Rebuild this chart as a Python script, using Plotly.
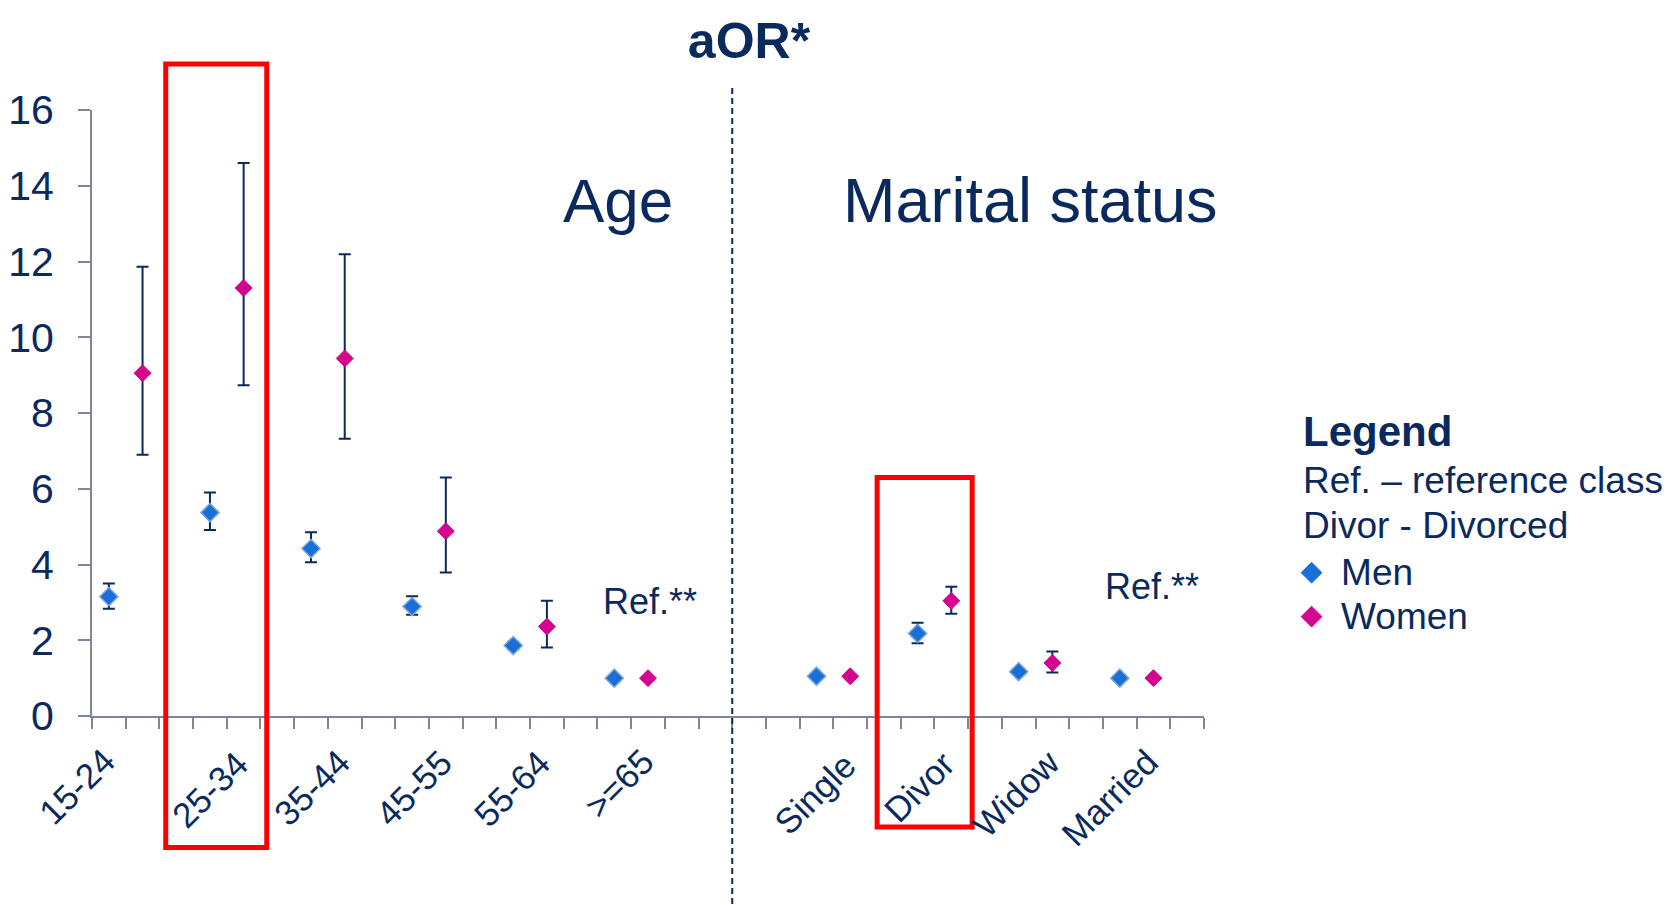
import plotly.graph_objects as go

# Age groups and marital status (each group uses 3 slots: men, women, gap)
age_groups = ['15-24', '25-34', '35-44', '45-55', '55-64', '>=65']
marital_groups = ['Single', 'Divor', 'Widow', 'Married']

# aOR with 95% CI
men_aor_age = [3.15, 5.37, 4.42, 2.89, 1.86, 1.0]
men_lo_age = [2.83, 4.91, 4.06, 2.67, 1.76, 1.0]
men_hi_age = [3.50, 5.90, 4.85, 3.16, 1.96, 1.0]
women_aor_age = [9.05, 11.30, 9.44, 4.88, 2.36, 1.0]
women_lo_age = [6.90, 8.73, 7.32, 3.79, 1.81, 1.0]
women_hi_age = [11.86, 14.60, 12.19, 6.30, 3.04, 1.0]

men_aor_mar = [1.05, 2.18, 1.17, 1.0]
men_lo_mar = [1.02, 1.92, 1.10, 1.0]
men_hi_mar = [1.08, 2.46, 1.25, 1.0]
women_aor_mar = [1.05, 3.04, 1.40, 1.0]
women_lo_mar = [1.02, 2.70, 1.15, 1.0]
women_hi_mar = [1.08, 3.41, 1.70, 1.0]

NAVY = '#0A2A5E'
GREY = '#80869A'
MEN = '#1A6FD6'
MEN_EDGE = '#7BA6E3'
WOMEN = '#D4048F'

N_SLOTS = 33
MARITAL_START = 21
PAGE_OFFSET = 8  # the html body margin pushes the figure 8px right/down


def slot_positions(offset):
    """x position of each point on the numeric slot axis"""
    xs = [3 * i + offset for i in range(len(age_groups))]
    xs += [MARITAL_START + 3 * i + offset for i in range(len(marital_groups))]
    return xs


def make_trace(name, aor, lo, hi, offset, color, size, line_color, line_width):
    return go.Scatter(
        x=slot_positions(offset),
        y=aor,
        mode='markers',
        name=name,
        showlegend=False,
        marker=dict(symbol='diamond', size=size, color=color,
                    line=dict(color=line_color, width=line_width)),
        error_y=dict(
            type='data', symmetric=False,
            array=[h - v for h, v in zip(hi, aor)],
            arrayminus=[v - l for v, l in zip(aor, lo)],
            color=NAVY, thickness=2, width=6
        ),
        hoverinfo='skip'
    )


def legend_entry(name, color, line_color):
    # legend-only entry so the legend diamond can be bigger than the plotted ones
    return go.Scatter(
        x=[None], y=[None], mode='markers',
        name=f'<span style="font-size:37px">{name}</span>',
        marker=dict(symbol='diamond', size=16, color=color,
                    line=dict(color=line_color, width=1)),
        hoverinfo='skip'
    )


fig = go.Figure()
fig.add_trace(make_trace('Men', men_aor_age + men_aor_mar, men_lo_age + men_lo_mar,
                         men_hi_age + men_hi_mar, 0, MEN, 14, MEN_EDGE, 1.5))
fig.add_trace(make_trace('Women', women_aor_age + women_aor_mar, women_lo_age + women_lo_mar,
                         women_hi_age + women_hi_mar, 1, WOMEN, 13, WOMEN, 1))
fig.add_trace(legend_entry('Men', MEN, MEN))
fig.add_trace(legend_entry('Women', WOMEN, WOMEN))

# category labels, rotated like the original axis labels
label_x = [-0.0138, 0.1059, 0.1976, 0.2898, 0.3775, 0.4738, 0.6501, 0.7441, 0.8309, 0.9150]
label_y = [-0.1161, -0.1210, -0.1177, -0.1185, -0.1194, -0.1111, -0.1276, -0.1161, -0.1276, -0.1342]
for text, lx, ly in zip(age_groups + marital_groups, label_x, label_y):
    fig.add_annotation(x=lx, y=ly, xref='paper', yref='paper', text=text, showarrow=False,
                       textangle=-45, xanchor='center', yanchor='middle',
                       font=dict(size=35, color=NAVY))

# section headings
fig.add_annotation(x=15.11, y=13.62, text='Age', showarrow=False,
                   font=dict(size=62, color=NAVY))
fig.add_annotation(x=27.35, y=13.62, text='Marital status', showarrow=False,
                   font=dict(size=63, color=NAVY))
fig.add_annotation(x=16.06, y=3.02, text='Ref.**', showarrow=False,
                   font=dict(size=36, color=NAVY))
fig.add_annotation(x=30.97, y=3.42, text='Ref.**', showarrow=False,
                   font=dict(size=36, color=NAVY))

# legend text block
legend_lines = [('<b>Legend</b>', 42, 0.469), ('Ref. – reference class', 37, 0.388),
                ('Divor - Divorced', 37, 0.314)]
for text, size, ly in legend_lines:
    fig.add_annotation(x=1.0875, y=ly, xref='paper', yref='paper', text=text,
                       showarrow=False, xanchor='left', yanchor='middle',
                       font=dict(size=size, color=NAVY))

# dashed divider between age and marital status
fig.add_shape(type='line', xref='x', yref='paper', x0=18.5, x1=18.5, y0=1.0363, y1=-0.33,
              line=dict(color=NAVY, width=2, dash='6px,4px'))

# red highlight boxes
fig.add_shape(type='rect', xref='x', yref='paper', x0=1.688, x1=4.686, y0=-0.2168, y1=1.076,
              line=dict(color='#FF0000', width=5))
fig.add_shape(type='rect', xref='x', yref='paper', x0=22.80, x1=25.62, y0=-0.1832, y1=0.3936,
              line=dict(color='#FF0000', width=5))

fig.update_xaxes(
    range=[-0.5, N_SLOTS - 0.5],
    tickvals=[i - 0.5 for i in range(N_SLOTS + 1)],
    ticktext=[''] * (N_SLOTS + 1),
    ticks='outside', ticklen=11, tickwidth=2, tickcolor=GREY,
    showline=True, linecolor=GREY, linewidth=2,
    showgrid=False, zeroline=False, automargin=False
)
fig.update_yaxes(
    range=[0, 16], dtick=2,
    ticks='outside', ticklen=12, tickwidth=2, tickcolor=GREY,
    showline=True, linecolor=GREY, linewidth=2,
    showgrid=False, zeroline=False, automargin=False,
    tickfont=dict(size=41, color=NAVY), ticklabelstandoff=16
)

fig.update_layout(
    width=1670, height=905,
    margin=dict(l=92.3 - PAGE_OFFSET, r=474, t=110 - PAGE_OFFSET, b=197.3, autoexpand=False),
    plot_bgcolor='white', paper_bgcolor='white',
    font=dict(family='Liberation Sans, Arial, sans-serif', color=NAVY),
    title=dict(text='<b>aOR*</b>', x=(749 - PAGE_OFFSET) / 1670, xref='container', xanchor='center',
               y=1 - (40 - PAGE_OFFSET) / 905, yanchor='middle', font=dict(size=50, color=NAVY)),
    showlegend=True,
    legend=dict(x=1.0702, y=0.281, xanchor='left', yanchor='top', xref='paper',
                font=dict(size=31.5, color=NAVY), itemsizing='trace', itemwidth=49,
                bgcolor='rgba(0,0,0,0)', tracegroupgap=0)
)

fig.write_html('out.html')
